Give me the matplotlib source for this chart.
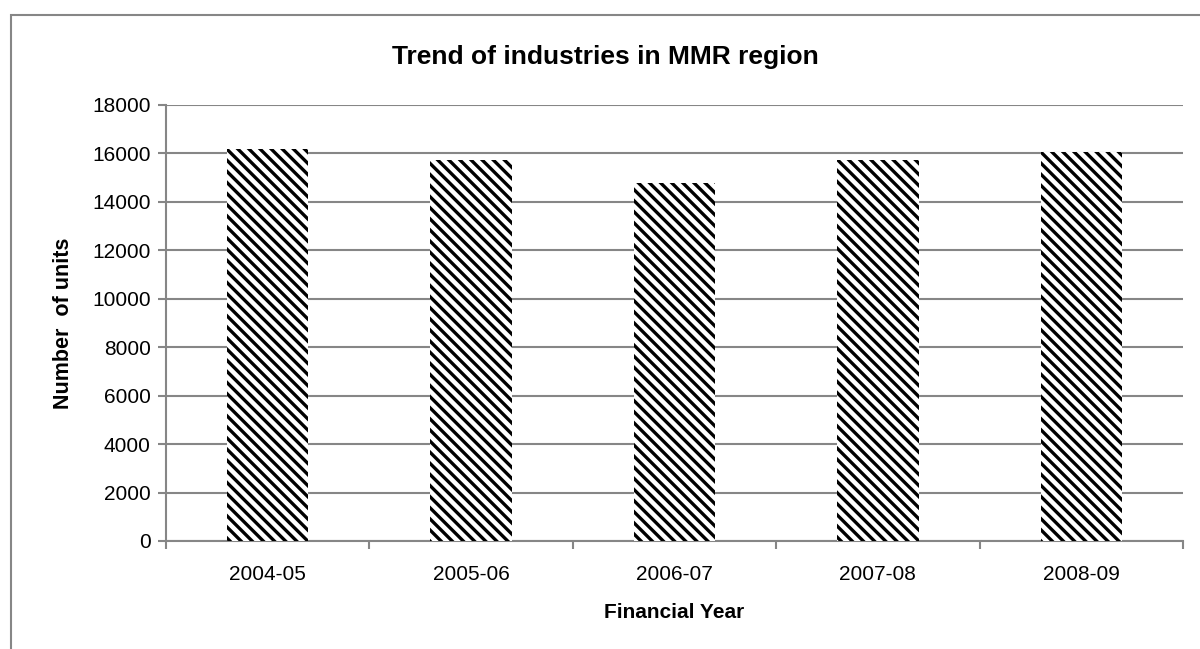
import numpy as np
import matplotlib.pyplot as plt
from matplotlib.patches import Rectangle

years = ['2004-05', '2005-06', '2006-07', '2007-08', '2008-09']
units = [16200, 15720, 14780, 15720, 16050]
yticks = list(range(0, 18001, 2000))

GRAY = '#868686'


def main():
    plt.rcParams['font.family'] = ['Liberation Sans', 'DejaVu Sans']
    plt.rcParams['hatch.linewidth'] = 2.4

    fig = plt.figure(figsize=(12, 6.49), dpi=100)
    ax = fig.add_axes([166 / 1200, 1 - 541 / 649, (1183 - 166) / 1200, (541 - 105) / 649])

    # outer chart border
    fig.patches.append(Rectangle((11 / 1200, -0.1), 1.2, 1 - 15 / 649 + 0.1,
                                 transform=fig.transFigure, fill=False,
                                 edgecolor=GRAY, linewidth=1.5))

    x = np.arange(len(years))
    ax.bar(x, units, width=0.4, color='white', edgecolor='black', linewidth=0,
           hatch='\\\\\\', zorder=3)

    ax.set_xlim(-0.5, len(years) - 0.5)
    ax.set_ylim(0, 18000)
    ax.set_yticks(yticks)
    ax.set_yticklabels([str(v) for v in yticks], fontsize=15)
    ax.set_xticks(x)
    ax.set_xticklabels(years, fontsize=15)
    ax.set_xticks(np.arange(-0.5, len(years)), minor=True)
    ax.tick_params(axis='x', which='major', length=0, pad=17)
    ax.tick_params(axis='x', which='minor', length=6, width=1.5, color=GRAY, direction='out')
    ax.tick_params(axis='y', length=6, width=1.5, color=GRAY, direction='out', pad=5)

    ax.grid(axis='y', color=GRAY, linewidth=1.5, zorder=0)
    for s in ['top', 'right']:
        ax.spines[s].set_visible(False)
    for s in ['left', 'bottom']:
        ax.spines[s].set_color(GRAY)
        ax.spines[s].set_linewidth(1.5)

    ax.set_ylabel('Number  of units', fontsize=15.5, fontweight='bold', labelpad=13)
    ax.set_xlabel('Financial Year', fontsize=15, fontweight='bold', labelpad=14)
    fig.text(0.5 + 0.5 * (11 / 1200), 1 - 57 / 649, 'Trend of industries in MMR region',
             ha='center', va='center', fontsize=19, fontweight='bold')

    fig.savefig('out.png', dpi=100)


if __name__ == '__main__':
    main()
